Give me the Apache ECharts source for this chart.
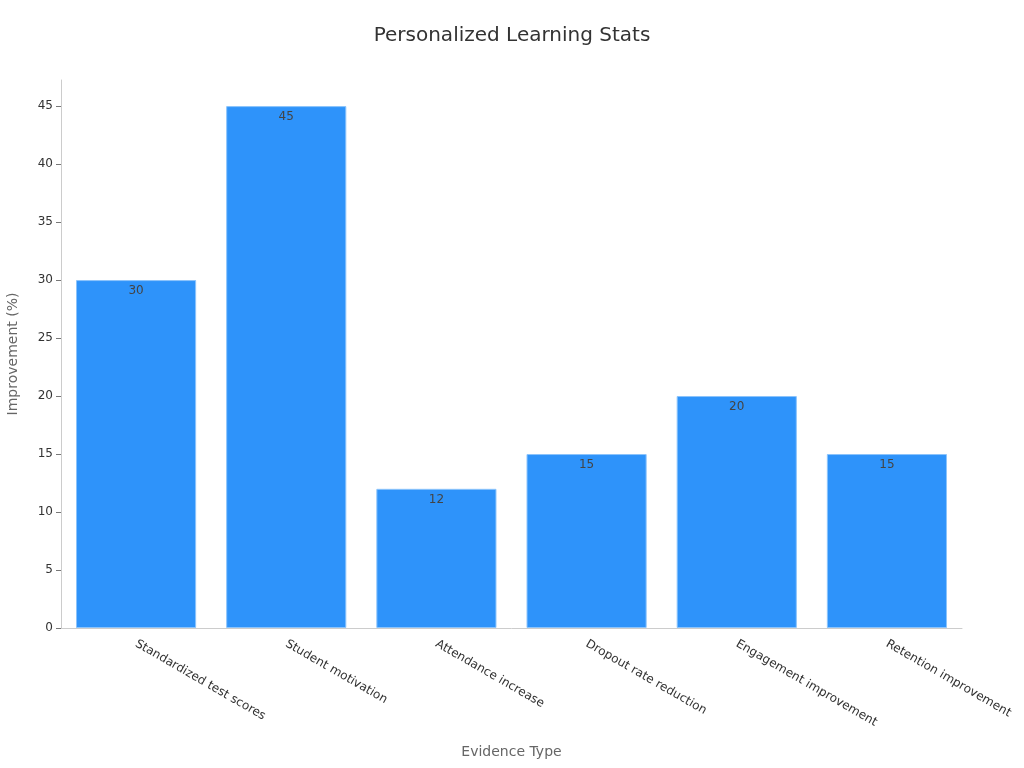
<!DOCTYPE html>
<html>
<head>
<meta charset="utf-8">
<script src="https://cdn.jsdelivr.net/npm/echarts@6/dist/echarts.min.js"></script>
<style>
  html, body { margin: 0; padding: 0; background: #fff; }
  .main { width: 1024px; height: 768px; }
</style>
</head>
<body>
<div class="main"></div>
<script>
// data
let categories = ['Standardized test scores', 'Student motivation', 'Attendance increase',
    'Dropout rate reduction', 'Engagement improvement', 'Retention improvement'];
let improvement = [30, 45, 12, 15, 20, 15];
let yTicks = [0, 5, 10, 15, 20, 25, 30, 35, 40, 45];

let myChart = echarts.init(document.querySelector('.main'));
let options = {
    textStyle: { fontFamily: 'DejaVu Sans' },
    title: {
        text: 'Personalized Learning Stats',
        left: 'center',
        top: 21,
        textStyle: { fontSize: 20, fontWeight: 'normal', color: '#333', fontFamily: 'DejaVu Sans' }
    },
    grid: { left: 61, right: 62, top: 80, bottom: 140, containLabel: false, outerBoundsMode: 'none' },
    xAxis: {
        type: 'category',
        data: categories,
        name: 'Evidence Type',
        nameLocation: 'middle',
        nameGap: 117,
        nameTextStyle: { color: '#666', fontSize: 14 },
        axisLine: { lineStyle: { color: '#ccc' } },
        axisTick: { alignWithLabel: true, lineStyle: { color: '#777' } },
        axisLabel: { rotate: -30, color: '#333', fontSize: 12, margin: 15 }
    },
    yAxis: {
        type: 'value',
        min: 0,
        max: 47.25,
        interval: 5,
        name: 'Improvement (%)',
        nameLocation: 'middle',
        nameGap: 41,
        nameTextStyle: { color: '#666', fontSize: 14 },
        axisLine: { show: true, lineStyle: { color: '#ccc' } },
        axisTick: { show: true, customValues: yTicks, lineStyle: { color: '#777' } },
        axisLabel: { customValues: yTicks, color: '#333', fontSize: 12 },
        splitLine: { show: false }
    },
    series: [
        {
            type: 'bar',
            data: improvement,
            barCategoryGap: '20%',
            itemStyle: { color: '#2e93fa', borderColor: '#8cc4fb', borderWidth: 1 },
            label: {
                show: true,
                position: 'insideTop',
                color: '#444',
                fontSize: 12,
                distance: 5
            }
        }
    ]
};
myChart.setOption(options);
</script>
</body>
</html>
